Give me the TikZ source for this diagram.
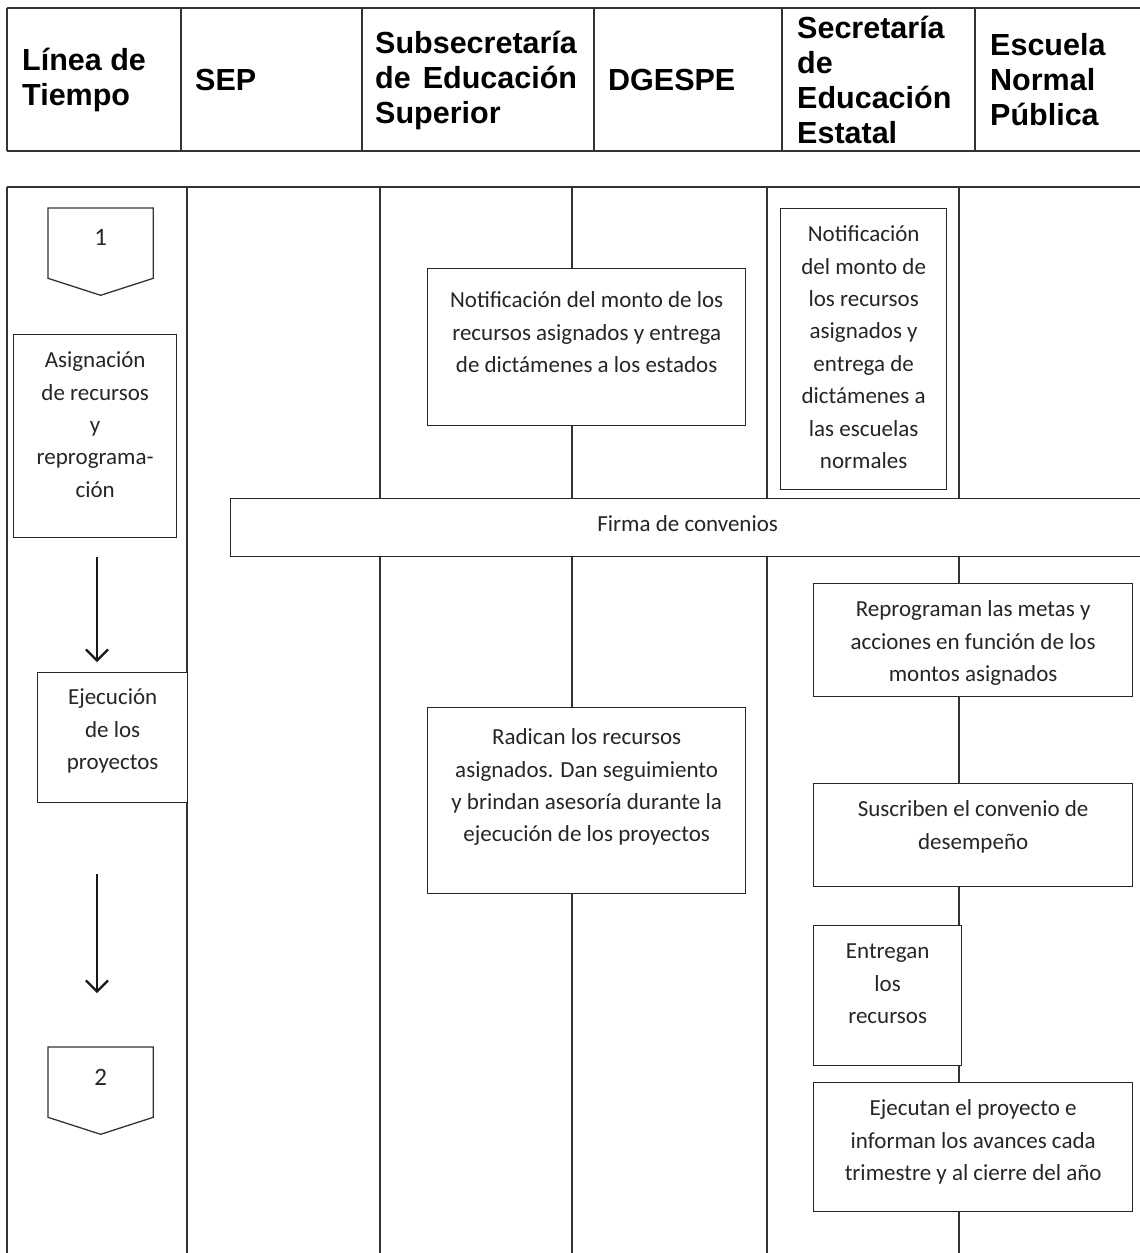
\documentclass[tikz,border=0pt]{standalone}
\usepackage{fontspec}
\usepackage{tikz}
\usetikzlibrary{arrows.meta}

\newfontfamily\cabfont{Liberation Sans}
\newfontfamily\cuerpofont{Carlito}
% texto de caja: ancho, alto, bajada de la primera linea, texto
\newcommand{\textocaja}[4]{\parbox[t][#2][t]{#1}{\centering\rule{0pt}{#3}#4}}

\tikzset{
  cabecera/.style={anchor=west, align=left, inner sep=0pt, font=\cabfont\bfseries\fontsize{30.5pt}{35pt}\selectfont},
  caja/.style={draw=black!85, line width=1.3pt, fill=white, anchor=north west, inner sep=0pt, text=black!85, font=\cuerpofont\fontsize{23pt}{32.4pt}\selectfont},
  hito/.style={caja, draw=none, fill=none, font=\cuerpofont\fontsize{25pt}{32.4pt}\selectfont},
  linea/.style={draw=black!80, line width=1.3pt},
  flecha/.style={draw=black!90, line width=2pt, -{Straight Barb[length=11pt,width=22pt,line width=2.2pt]}},
}

\begin{document}
\begin{tikzpicture}[x=1pt, y=-1pt]
\useasboundingbox (0,0) rectangle (1140,1253);
\clip (0,0) rectangle (1140,1253);

% Cabecera
\draw[linea] (7,8) -- (1140,8);
\draw[linea] (7,151) -- (1140,151);
\draw[linea] (7,8) -- (7,151);
\draw[linea] (181,8) -- (181,151);
\draw[linea] (362,8) -- (362,151);
\draw[linea] (594,8) -- (594,151);
\draw[linea] (782,8) -- (782,151);
\draw[linea] (975,8) -- (975,151);

\node[cabecera] (hLinea) at (22,80) {Línea de\\Tiempo};
\node[cabecera] (hSEP) at (195,80) {SEP};
\node[cabecera] (hSubsec) at (375,80) {Subsecretaría\\\makebox[6.62em][s]{de Educación}\\Superior};
\node[cabecera] (hDGESPE) at (608,80) {DGESPE};
\node[cabecera] (hSecEst) at (797,80) {Secretaría\\de\\Educación\\Estatal};
\node[cabecera] (hEscuela) at (990,80) {Escuela\\Normal\\Pública};

% Carriles
\draw[linea] (7,187) -- (1140,187);
\draw[linea] (7,187) -- (7,1253);
\draw[linea] (187,187) -- (187,1253);
\draw[linea] (380,187) -- (380,1253);
\draw[linea] (572,187) -- (572,1253);
\draw[linea] (767,187) -- (767,1253);
\draw[linea] (959,187) -- (959,1253);

% Linea de tiempo
\node[hito] (hito1) at (48,208) {\textocaja{104pt}{86pt}{37pt}{1}};
\draw[linea] (hito1.north west) -- (hito1.north east) -- ([yshift=17pt]hito1.south east) -- (hito1.south) -- ([yshift=17pt]hito1.south west) -- cycle;

\node[caja] (asig) at (13,334) {\textocaja{163pt}{203pt}{33pt}{Asignación\\de recursos\\y\\reprograma-\\ción}};
\node[caja] (ejec) at (37,672) {\textocaja{150pt}{130pt}{32pt}{Ejecución\\de los\\proyectos}};

\node[hito] (hito2) at (48,1047) {\textocaja{104pt}{86pt}{38pt}{2}};
\draw[linea] (hito2.north west) -- (hito2.north east) -- ([yshift=17pt]hito2.south east) -- (hito2.south) -- ([yshift=17pt]hito2.south west) -- cycle;

\coordinate (eje) at (97,0);
\draw[flecha, shorten <=19pt, shorten >=10pt] (eje |- asig.south) -- (eje |- ejec.north);
\draw[flecha, shorten <=71pt, shorten >=54pt] (eje |- ejec.south) -- (eje |- hito2.north);

% Subsecretaria / DGESPE
\node[caja] (notifSub) at (427,268) {\textocaja{318pt}{157pt}{39pt}{Notificación del monto de los\\recursos asignados y entrega\\de dictámenes a los estados}};
\node[caja] (radican) at (427,707) {\textocaja{318pt}{186pt}{37pt}{Radican los recursos\\asignados. Dan seguimiento\\y brindan asesoría durante la\\ejecución de los proyectos}};

% Secretaria estatal
\node[caja] (notifEst) at (780,208) {\textocaja{166pt}{281pt}{33pt}{Notificación\\del monto de\\los recursos\\asignados y\\entrega de\\dictámenes a\\las escuelas\\normales}};

\node[caja] (firma) at (230,498) {\textocaja{914pt}{58pt}{33pt}{Firma de convenios}};

% Escuela normal
\node[caja] (reprog) at (813,583) {\textocaja{319pt}{113pt}{33pt}{Reprograman las metas y\\acciones en función de los\\montos asignados}};
\node[caja] (suscr) at (813,783) {\textocaja{319pt}{103pt}{33pt}{Suscriben el convenio de\\desempeño}};
\node[caja] (entreg) at (813,925) {\textocaja{148pt}{140pt}{33pt}{Entregan\\los\\recursos}};
\node[caja] (ejecut) at (813,1082) {\textocaja{319pt}{129pt}{33pt}{Ejecutan el proyecto e\\informan los avances cada\\trimestre y al cierre del año}};
\end{tikzpicture}
\end{document}
